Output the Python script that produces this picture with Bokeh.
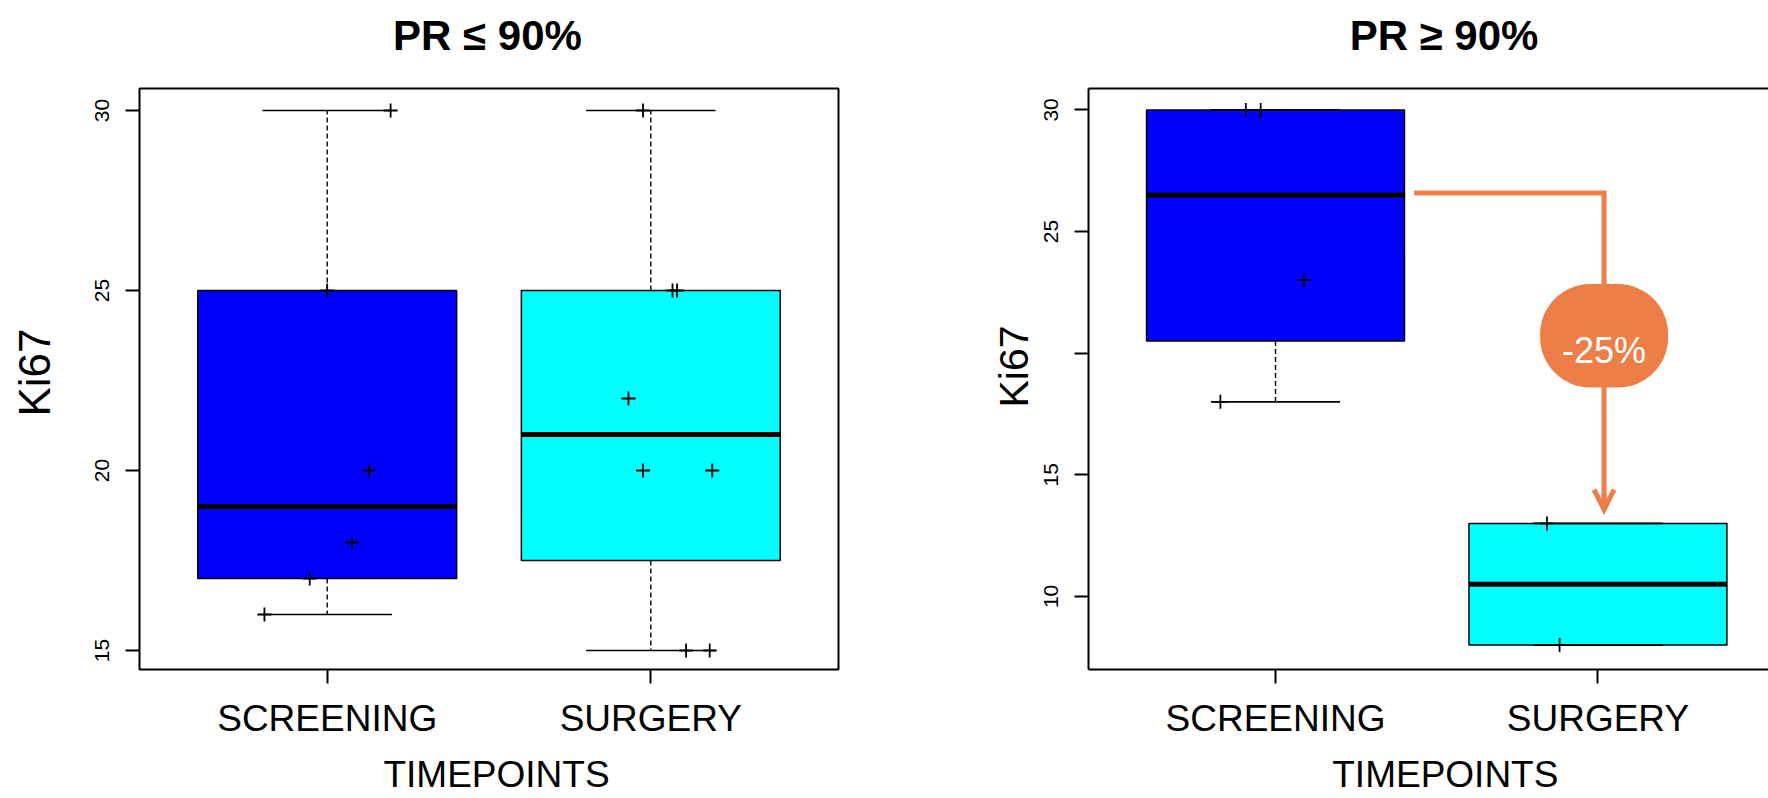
import numpy as np
from bokeh.plotting import figure
from bokeh.models import Range1d, FixedTicker, LinearAxis, Title, Arrow, OpenHead, Label
from bokeh.layouts import row
from bokeh.embed import file_html
from bokeh.resources import INLINE

# ---------------- data ----------------
categories = ["SCREENING", "SURGERY"]
group_pos = [1, 2]
box_colors = ["#0000FF", "#00FFFF"]

panel_titles = ["PR \u2264 90%", "PR \u2265 90%"]
y_label = "Ki67"
x_label = "TIMEPOINTS"

# PR <= 90%
low_screening = [30, 25, 20, 18, 17, 16]
low_screening_jitter = [0.196, 0.0, 0.129, 0.077, -0.054, -0.194]
low_surgery = [30, 25, 25, 22, 20, 20, 15, 15]
low_surgery_jitter = [-0.024, 0.067, 0.081, -0.069, -0.024, 0.19, 0.109, 0.182]
low_yticks = [15, 20, 25, 30]

# PR >= 90%
high_screening = [30, 30, 23, 18]
high_screening_jitter = [-0.092, -0.046, 0.089, -0.171]
high_surgery = [13, 8]
high_surgery_jitter = [-0.158, -0.119]
high_yticks = [10, 15, 20, 25, 30]

change_text = "-25%"

FONT = "Liberation Sans"
ORANGE = "#EE7E48"


def fivenum(v):
    v = sorted(v)
    n = len(v)
    n4 = np.floor((n + 3) / 2) / 2
    d = [1, n4, (n + 1) / 2, n + 1 - n4, n]
    return [0.5 * (v[int(np.floor(i)) - 1] + v[int(np.ceil(i)) - 1]) for i in d]


def draw_boxes(p, groups, jitters):
    for pos, vals, col in zip(group_pos, groups, box_colors):
        _, q1, q2, q3, _ = fivenum(vals)
        iqr = q3 - q1
        lo = min(v for v in vals if v >= q1 - 1.5 * iqr)
        hi = max(v for v in vals if v <= q3 + 1.5 * iqr)
        p.quad(left=[pos - 0.4], right=[pos + 0.4], bottom=[q1], top=[q3],
               fill_color=col, line_color="black", line_width=1.5)
        p.segment(x0=[pos, pos], y0=[q3, q1], x1=[pos, pos], y1=[hi, lo],
                  line_color="black", line_width=1.4, line_dash="5 3")
        p.segment(x0=[pos - 0.2] * 2, y0=[hi, lo], x1=[pos + 0.2] * 2, y1=[hi, lo],
                  line_color="black", line_width=1.7)
        p.segment(x0=[pos - 0.4], y0=[q2], x1=[pos + 0.4], y1=[q2],
                  line_color="black", line_width=5)
    for pos, vals, jit in zip(group_pos, groups, jitters):
        p.scatter(x=[pos + j for j in jit], y=vals, marker="cross", size=14,
                  line_color="black", line_width=1.8)


def text_axis(x, text, size, standoff, bold=False, line_color=None, vertical=False):
    """An axis carrying a single label (used for the panel/axis titles)."""
    ax = LinearAxis(ticker=FixedTicker(ticks=[x]), major_label_overrides={x: text},
                    major_label_text_font=FONT, major_label_text_font_size=size,
                    major_label_text_font_style="bold" if bold else "normal",
                    major_label_text_color="black", major_label_standoff=standoff,
                    major_tick_out=0, major_tick_in=0, major_tick_line_color=None,
                    minor_tick_line_color=None, axis_line_color=line_color,
                    axis_line_width=2)
    if vertical:
        ax.major_label_orientation = "vertical"
    return ax


def style(p, yticks, overrides=None):
    p.grid.visible = False
    p.background_fill_color = "white"
    p.border_fill_color = "white"
    p.xaxis.ticker = FixedTicker(ticks=group_pos)
    p.xaxis.major_label_overrides = {g: c for g, c in zip(group_pos, categories)}
    p.xaxis.major_label_text_font = FONT
    p.xaxis.major_label_text_font_size = "37px"
    p.xaxis.major_label_text_color = "black"
    p.xaxis.major_label_standoff = 14
    p.yaxis.ticker = FixedTicker(ticks=yticks)
    if overrides:
        p.yaxis.major_label_overrides = overrides
    p.yaxis.major_label_orientation = "vertical"
    p.yaxis.major_label_text_font = FONT
    p.yaxis.major_label_text_font_size = "21px"
    p.yaxis.major_label_text_color = "black"
    p.yaxis.major_label_standoff = 16
    for ax in (p.xaxis, p.yaxis):
        ax.major_tick_out = 14
        ax.major_tick_in = 0
        ax.minor_tick_line_color = None
        ax.major_tick_line_color = "black"
        ax.major_tick_line_width = 2


# ---------------- left panel ----------------
p1 = figure(width=968, height=798, min_border_left=139, min_border_right=130,
            min_border_top=88, min_border_bottom=129,
            x_range=Range1d(0.42, 2.58), y_range=Range1d(14.472, 30.611),
            output_backend="svg", toolbar_location=None)
style(p1, low_yticks)
p1.outline_line_color = "black"
p1.outline_line_width = 2
p1.xaxis.axis_line_color = None
p1.yaxis.axis_line_color = None
p1.add_layout(text_axis(1.4954, panel_titles[0], "42px", 30, bold=True), "above")
p1.add_layout(text_axis(1.5232, x_label, "37px", 12), "below")
p1.add_layout(text_axis(22.72, y_label, "44px", 33, vertical=True), "left")
draw_boxes(p1, [low_screening, low_surgery], [low_screening_jitter, low_surgery_jitter])

# ---------------- right panel ----------------
p2 = figure(width=800, height=798, min_border_left=120, min_border_right=0,
            min_border_top=88, min_border_bottom=129,
            x_range=Range1d(0.42, 2.529), y_range=Range1d(6.996, 30.88),
            output_backend="svg", toolbar_location=None)
style(p2, high_yticks, overrides={20: ""})
p2.outline_line_color = None
for ax in (p2.xaxis, p2.yaxis):
    ax.axis_line_color = "black"
    ax.axis_line_width = 2
p2.add_layout(text_axis(1.5227, panel_titles[1], "42px", 30, bold=True, line_color="black"),
              "above")
p2.add_layout(text_axis(1.5267, x_label, "37px", 12), "below")
p2.add_layout(Title(text=y_label, align="left", offset=262, standoff=10,
                    text_font=FONT, text_font_size="41px", text_font_style="normal",
                    text_color="black"), "left")
draw_boxes(p2, [high_screening, high_surgery], [high_screening_jitter, high_surgery_jitter])

# change annotation
p2.line(x=[1.43, 2.019, 2.019], y=[26.58, 26.58, 13.6], line_color=ORANGE,
        line_width=5, line_join="miter")
p2.add_layout(Arrow(x_start=2.019, y_start=14.2, x_end=2.019, y_end=13.57,
                    line_color=ORANGE, line_width=5,
                    end=OpenHead(size=20, line_color=ORANGE, line_width=5, line_join="miter")))
try:
    p2.quad(left=[1.8207], right=[2.2178], top=[22.84], bottom=[18.59],
            fill_color=ORANGE, line_color=None, border_radius=50)
except Exception:
    p2.ellipse(x=[2.019], y=[20.72], width=0.397, height=4.25,
               fill_color=ORANGE, line_color=None)
p2.add_layout(Label(x=2.019, y=20.12, text=change_text, text_font=FONT, text_font_size="36px",
                    text_color="white", text_align="center", text_baseline="alphabetic"))

layout = row(p1, p2)
open("out.html", "w").write(file_html(layout, INLINE))
